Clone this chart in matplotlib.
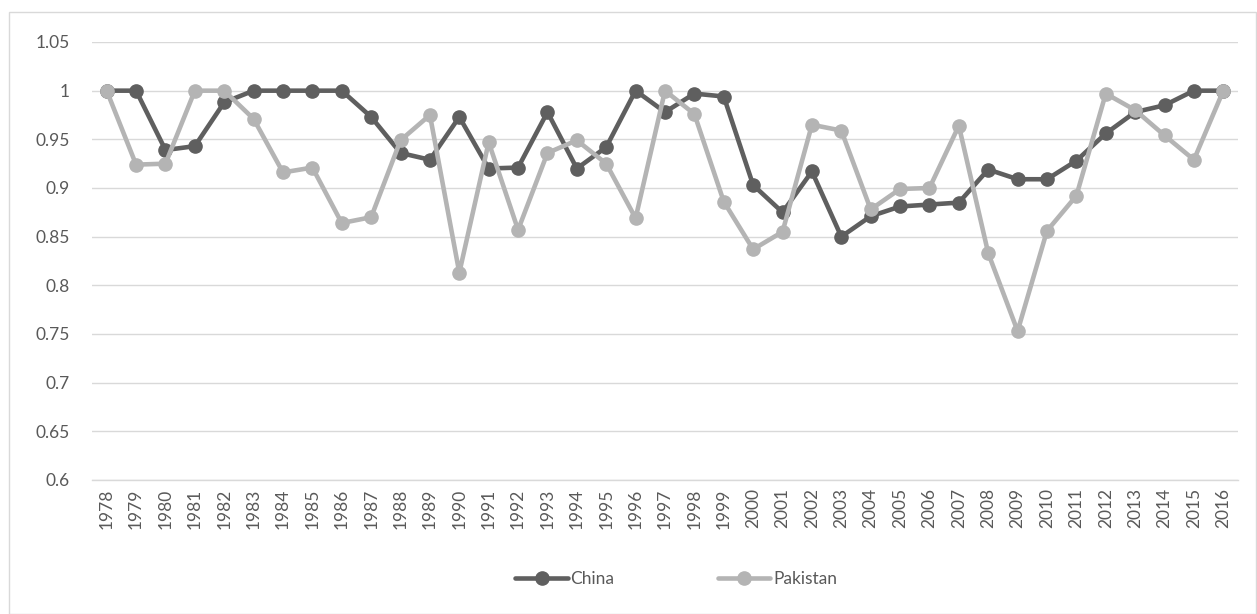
import numpy as np
import matplotlib.pyplot as plt
from matplotlib.patches import Rectangle

# valores
years = [str(y) for y in range(1978, 2017)]

china = [1.0, 1.0, 0.939, 0.943, 0.988, 1.0, 1.0, 1.0, 1.0, 0.973,
         0.936, 0.929, 0.973, 0.920, 0.921, 0.978, 0.920, 0.942, 1.0, 0.978,
         0.997, 0.994, 0.903, 0.875, 0.917, 0.850, 0.871, 0.881, 0.883, 0.885,
         0.919, 0.909, 0.909, 0.928, 0.956, 0.978, 0.985, 1.0, 1.0]

pakistan = [1.0, 0.924, 0.925, 1.0, 1.0, 0.971, 0.916, 0.921, 0.864, 0.870,
            0.949, 0.975, 0.813, 0.947, 0.857, 0.936, 0.949, 0.925, 0.869, 1.0,
            0.976, 0.886, 0.837, 0.855, 0.965, 0.959, 0.878, 0.899, 0.900, 0.964,
            0.833, 0.753, 0.856, 0.892, 0.997, 0.980, 0.954, 0.929, 1.0]

yticks = [0.6, 0.65, 0.7, 0.75, 0.8, 0.85, 0.9, 0.95, 1.0, 1.05]
ytick_labels = ['0.6', '0.65', '0.7', '0.75', '0.8', '0.85', '0.9', '0.95', '1', '1.05']

plt.rcParams['font.family'] = ['Lato', 'DejaVu Sans']
W, H = 1257, 614
fig = plt.figure(figsize=(W / 100, H / 100), dpi=100)

# borde del area del grafico
fig.patches.append(Rectangle((9 / W, 0), (1256 - 9) / W, (H - 12) / H,
                             transform=fig.transFigure, fill=False,
                             edgecolor='#d9d9d9', linewidth=1.0))

ax = fig.add_axes([92 / W, 1 - 480 / H, (1238 - 92) / W, (480 - 42) / H])

x = np.arange(len(years))
ax.plot(x, china, color='#5f5f5f', linewidth=3.3, marker='o', markersize=9.5,
        label='China', zorder=3, solid_capstyle='round')
ax.plot(x, pakistan, color='#b4b4b4', linewidth=3.3, marker='o', markersize=9.5,
        label='Pakistan', zorder=4, solid_capstyle='round')

ax.set_xlim(-0.5, len(years) - 0.5)
ax.set_ylim(0.6, 1.05)
ax.set_yticks(yticks)
ax.set_yticklabels(ytick_labels)
ax.set_xticks(x)
ax.set_xticklabels(years, rotation=90)

ax.grid(axis='y', color='#d9d9d9', linewidth=1.0)
ax.set_axisbelow(True)
for s in ['top', 'right', 'left']:
    ax.spines[s].set_visible(False)
ax.spines['bottom'].set_color('#d9d9d9')
ax.spines['bottom'].set_linewidth(1.0)
ax.tick_params(axis='both', length=0, labelsize=12.5, colors='#595959')
ax.tick_params(axis='y', pad=16)
ax.tick_params(axis='x', pad=6)

leg = fig.legend(loc='center', bbox_to_anchor=(0.538, 1 - 579 / H), ncol=2,
                 frameon=False, fontsize=12.5, handlelength=3.0,
                 handletextpad=0.15, columnspacing=6.0)
for t in leg.get_texts():
    t.set_color('#595959')

fig.savefig('out.png', dpi=100)
